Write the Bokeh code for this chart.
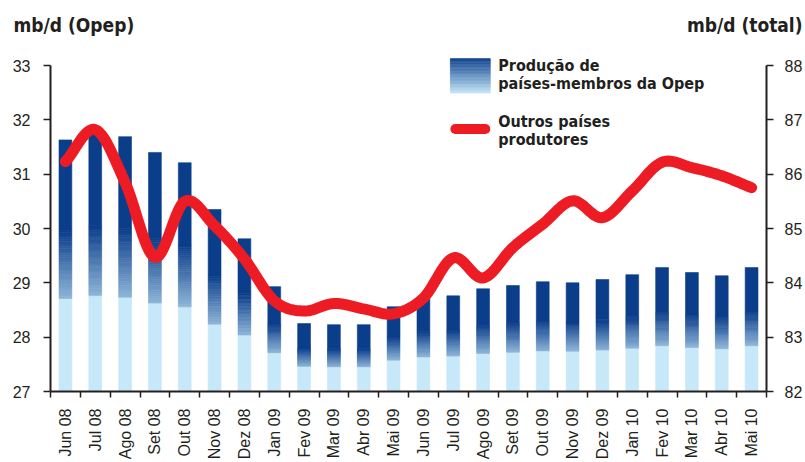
import math
import numpy as np
from bokeh.plotting import figure
from bokeh.models import Range1d, LinearAxis, FixedTicker, Label, ColumnDataSource
from bokeh.embed import file_html
from bokeh.resources import INLINE

# ---------------- data ----------------
months = ["Jun 08", "Jul 08", "Ago 08", "Set 08", "Out 08", "Nov 08", "Dez 08",
          "Jan 09", "Fev 09", "Mar 09", "Abr 09", "Mai 09", "Jun 09", "Jul 09",
          "Ago 09", "Set 09", "Out 09", "Nov 09", "Dez 09", "Jan 10", "Fev 10",
          "Mar 10", "Abr 10", "Mai 10"]
opep = [31.63, 31.77, 31.69, 31.40, 31.21, 30.35, 29.81, 28.93, 28.25, 28.23,
        28.23, 28.56, 28.72, 28.76, 28.89, 28.95, 29.02, 29.00, 29.06, 29.15,
        29.28, 29.19, 29.13, 29.28]
outros = [86.23, 86.82, 85.85, 84.47, 85.50, 85.05, 84.44, 83.67, 83.48, 83.62,
          83.52, 83.43, 83.72, 84.46, 84.09, 84.65, 85.08, 85.51, 85.20, 85.69,
          86.22, 86.12, 85.97, 85.75]
left_ticks = [27, 28, 29, 30, 31, 32, 33]
right_ticks = [82, 83, 84, 85, 86, 87, 88]

LEFT_MIN, LEFT_MAX = 27, 33
RIGHT_MIN, RIGHT_MAX = 82, 88
n = len(months)

INK = "#231f20"
RED = "#ed1c24"
LIGHT = np.array([198, 232, 249])
DARK = np.array([10, 61, 138])
TFONT = "DejaVu Sans Condensed"


def mix(t):
    c = LIGHT + (DARK - LIGHT) * t
    return "#%02x%02x%02x" % tuple(int(round(v)) for v in c)


# page geometry (pixels) of the plotting frame where the axes live
W, H = 805, 462
TOP_H = 40                      # strip holding the two axis titles
FL, FR, FT, FB = 50.0, 768.0, 65.0, 391.0


def dx(pxv):
    return -0.5 + (pxv - FL) / (FR - FL) * n


def dy(pyv):
    return LEFT_MAX - (pyv - FT) / (FB - FT) * (LEFT_MAX - LEFT_MIN)


left_top = dy(TOP_H)
right_top = RIGHT_MAX + (left_top - LEFT_MAX)

# ---------------- title strip ----------------
top = figure(width=W, height=TOP_H, output_backend="svg", toolbar_location=None,
             x_range=Range1d(0, W), y_range=Range1d(TOP_H, 0),
             min_border=0, x_axis_location=None, y_axis_location=None)
top.outline_line_color = None
top.xgrid.visible = False
top.ygrid.visible = False
top.add_layout(Label(x=13, y=24, text="mb/d (Opep)", text_font=TFONT,
                     text_font_style="bold", text_font_size="19px", text_color=INK,
                     text_baseline="middle", text_align="left"))
top.add_layout(Label(x=802, y=24, text="mb/d (total)", text_font=TFONT,
                     text_font_style="bold", text_font_size="19px", text_color=INK,
                     text_baseline="middle", text_align="right"))

# ---------------- main chart ----------------
p = figure(width=W, height=H - TOP_H, output_backend="svg", toolbar_location=None,
           x_range=Range1d(-0.5, n - 0.5), y_range=Range1d(LEFT_MIN, left_top),
           min_border_left=int(FL), min_border_right=int(W - FR), min_border_top=0,
           min_border_bottom=int(H - FB), x_axis_location=None, y_axis_location=None)
p.extra_y_ranges = {"total": Range1d(RIGHT_MIN, right_top)}
p.outline_line_color = None
p.xgrid.visible = False
p.ygrid.visible = False

xaxis = LinearAxis(ticker=FixedTicker(ticks=list(range(n)),
                                      minor_ticks=[i - 0.5 for i in range(n + 1)]),
                   major_label_overrides={i: m for i, m in enumerate(months)})
xaxis.major_tick_out = 0
xaxis.major_tick_in = 0
xaxis.minor_tick_out = 6
xaxis.minor_tick_in = 0
xaxis.minor_tick_line_color = INK
xaxis.minor_tick_line_width = 1.5
xaxis.axis_line_color = INK
xaxis.axis_line_width = 2
xaxis.major_label_orientation = math.pi / 2
xaxis.major_label_standoff = 11
xaxis.major_label_text_font = "Liberation Sans"
xaxis.major_label_text_font_size = "16px"
xaxis.major_label_text_color = INK
p.add_layout(xaxis, "below")

for name, ticks, side, standoff, lo, hi in [
        ("default", left_ticks, "left", 13, LEFT_MIN, LEFT_MAX),
        ("total", right_ticks, "right", 11, RIGHT_MIN, RIGHT_MAX)]:
    ax = LinearAxis(y_range_name=name, ticker=FixedTicker(ticks=ticks), bounds=(lo, hi))
    ax.major_tick_out = 7
    ax.major_tick_in = 0
    ax.minor_tick_out = 0
    ax.minor_tick_in = 0
    ax.major_tick_line_color = INK
    ax.major_tick_line_width = 1.5
    ax.axis_line_color = INK
    ax.axis_line_width = 2
    ax.major_label_standoff = standoff
    ax.major_label_text_font = "Liberation Sans"
    ax.major_label_text_font_size = "16px"
    ax.major_label_text_color = INK
    p.add_layout(ax, side)

# gradient bars (each bar: light base, blended band, dark top)
F_LIGHT, F_DARK, NSL = 0.37, 0.64, 30
bx, bb, bt, bc = [], [], [], []
for i, v in enumerate(opep):
    h = v - LEFT_MIN
    bx.append(i); bb.append(LEFT_MIN); bt.append(LEFT_MIN + F_LIGHT * h); bc.append(mix(0.0))
    edges = np.linspace(F_LIGHT, F_DARK, NSL + 1)
    for k in range(NSL):
        t = (k + 0.5) / NSL
        bx.append(i); bb.append(LEFT_MIN + edges[k] * h)
        bt.append(LEFT_MIN + edges[k + 1] * h); bc.append(mix(0.3 + 0.7 * t))
    bx.append(i); bb.append(LEFT_MIN + F_DARK * h); bt.append(v); bc.append(mix(1.0))

bars = ColumnDataSource(dict(x=bx, bottom=bb, top=bt, color=bc))
p.vbar(x="x", bottom="bottom", top="top", width=0.43, source=bars,
       fill_color="color", line_color="color", line_width=0.6)

# smooth red line (Catmull-Rom through the monthly values)
P = np.vstack([np.arange(n, dtype=float), np.array(outros, dtype=float)]).T
P_ext = np.vstack([2 * P[0] - P[1], P, 2 * P[-1] - P[-2]])
cx, cy = [], []
ts = np.linspace(0, 1, 16)
for s in range(n - 1):
    p0, p1, p2, p3 = P_ext[s], P_ext[s + 1], P_ext[s + 2], P_ext[s + 3]
    for j, t in enumerate(ts):
        if s > 0 and j == 0:
            continue
        pt = 0.5 * ((2 * p1) + (-p0 + p2) * t + (2 * p0 - 5 * p1 + 4 * p2 - p3) * t ** 2
                    + (-p0 + 3 * p1 - 3 * p2 + p3) * t ** 3)
        cx.append(pt[0]); cy.append(pt[1])
p.line(cx, cy, y_range_name="total", line_width=11, line_color=RED,
       line_cap="round", line_join="round")

# legend
NL = 24
sw_top, sw_bot = 58.0, 92.5
lq_top, lq_bot, lq_col = [], [], []
for k in range(NL):
    y0 = sw_top + (sw_bot - sw_top) * k / NL
    y1 = sw_top + (sw_bot - sw_top) * (k + 1) / NL
    lq_top.append(dy(y0)); lq_bot.append(dy(y1))
    lq_col.append(mix(0.95 * (1 - (k + 0.5) / NL) + 0.02))
p.quad(left=dx(451), right=dx(491), top=lq_top, bottom=lq_bot, fill_color=lq_col,
       line_color=lq_col, line_width=0.6)
p.line([dx(456), dx(486)], [dy(128.5), dy(128.5)], line_width=10, line_color=RED,
       line_cap="round")

for txt, ypx in [("Produção de", 64.5), ("países-membros da Opep", 82.5),
                 ("Outros países", 121.0), ("produtores", 138.5)]:
    p.add_layout(Label(x=dx(499), y=dy(ypx), text=txt, text_font=TFONT,
                       text_font_style="bold", text_font_size="16px",
                       text_color=INK, text_baseline="middle", text_align="left"))

open("out.html", "w").write(file_html([top, p], INLINE))
